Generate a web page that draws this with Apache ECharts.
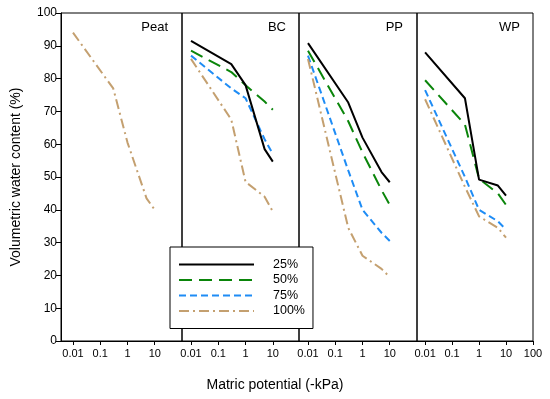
<!DOCTYPE html>
<html>
<head>
<meta charset="utf-8">
<script src="https://cdn.jsdelivr.net/npm/echarts@6/dist/echarts.min.js"></script>
<style>html,body{margin:0;padding:0;background:#fff}#c{width:550px;height:399px}</style>
</head>
<body>
<div id="c"></div>
<script>
// ---- data ----
const kpa = [0.01, 0.3, 1, 5, 10];
const panels = ['Peat', 'BC', 'PP', 'WP'];
const levels = ['25%', '50%', '75%', '100%'];
const xTicks = [0.01, 0.1, 1, 10, 100];
const yTicks = [0, 10, 20, 30, 40, 50, 60, 70, 80, 90, 100];

const peat100 = [94, 77, 60.5, 43.5, 40];

const bc25 = [91.5, 84.4, 78, 58.5, 54.7];
const bc50 = [88.5, 82, 78, 73, 70.5];
const bc75 = [87, 77, 74, 61.5, 57];
const bc100 = [86, 67.5, 48.5, 44, 39.5];

const pp25 = [90.8, 72.7, 62, 51.5, 48.4];
const pp50 = [88.5, 67, 57.5, 46, 41.5];
const pp75 = [87, 52, 40, 33, 30.5];
const pp100 = [86, 34.5, 26, 22, 19.5];

const wp25 = [88, 74, 49.2, 47.4, 44.3];
const wp50 = [79.5, 66, 49.5, 45, 41.5];
const wp75 = [76.5, 50, 40, 36.5, 34];
const wp100 = [73.7, 47, 38, 34.5, 31.5];

// ---- styles ----
const colors = { '25%': '#000000', '50%': '#0a850a', '75%': '#1e8cf5', '100%': '#c4a070' };
const dashes = { '25%': 'solid', '50%': [13, 7], '75%': [7, 4], '100%': [10, 4, 2, 4] };

const chart = echarts.init(document.getElementById('c'), null, { renderer: 'canvas' });

const gridPx = [
  { left: 61, right: 550 - 182 },
  { left: 182, right: 550 - 299 },
  { left: 299, right: 550 - 417 },
  { left: 417, right: 550 - 533 }
];
const xRange = [
  [Math.pow(10, -2.44), 100],
  [Math.pow(10, -2.33), Math.pow(10, 1.96)],
  [Math.pow(10, -2.33), Math.pow(10, 2.0)],
  [Math.pow(10, -2.30), 100]
];

function fmt(v) {
  const e = Math.round(Math.log10(v));
  return e < 0 ? v.toFixed(-e) : String(Math.round(v));
}

const grids = gridPx.map(g => ({
  left: g.left, right: g.right, top: 13, bottom: 58,
  show: true, borderColor: '#000', borderWidth: 1, backgroundColor: 'transparent'
}));

const xAxes = gridPx.map((g, i) => {
  const ticks = i === 3 ? xTicks : xTicks.slice(0, 4);
  return {
    type: 'log', gridIndex: i, logBase: 10,
    min: xRange[i][0], max: xRange[i][1],
    axisLine: { show: true, lineStyle: { color: '#000', width: 1 } },
    axisTick: { show: true, inside: false, length: 4, lineStyle: { color: '#000' }, customValues: ticks },
    axisLabel: { show: true, color: '#000', fontSize: 11, fontFamily: 'Liberation Sans, Arial', margin: 7, formatter: fmt, customValues: ticks },
    splitLine: { show: false }, minorTick: { show: false }
  };
});

const yAxes = gridPx.map((g, i) => ({
  type: 'value', gridIndex: i, min: 0, max: 100, interval: 10,
  axisLine: { show: i === 0, lineStyle: { color: '#000' } },
  axisTick: { show: i === 0, inside: false, length: 5, lineStyle: { color: '#000' } },
  axisLabel: { show: i === 0, color: '#000', fontSize: 12, fontFamily: 'Liberation Sans, Arial', margin: 4 },
  splitLine: { show: false },
  name: i === 0 ? 'Volumetric water content (%)' : '',
  nameLocation: 'middle', nameGap: 38, nameRotate: 90,
  nameTextStyle: { color: '#000', fontSize: 14, fontFamily: 'Liberation Sans, Arial' }
}));

function mk(name, grid, vals) {
  return {
    type: 'line', name: name, xAxisIndex: grid, yAxisIndex: grid,
    data: kpa.map((k, j) => [k, vals[j]]),
    symbol: 'none', smooth: false,
    lineStyle: { color: colors[name], width: 2, type: dashes[name] },
    itemStyle: { color: colors[name] },
    z: name === '25%' ? 5 : 3
  };
}

const series = [
  mk('100%', 0, peat100),
  mk('25%', 1, bc25), mk('50%', 1, bc50), mk('75%', 1, bc75), mk('100%', 1, bc100),
  mk('25%', 2, pp25), mk('50%', 2, pp50), mk('75%', 2, pp75), mk('100%', 2, pp100),
  mk('25%', 3, wp25), mk('50%', 3, wp50), mk('75%', 3, wp75), mk('100%', 3, wp100)
];

const titleRight = [168, 286, 403, 520];
const graphics = panels.map((p, i) => ({
  type: 'text', right: 550 - titleRight[i], top: 21,
  style: { text: p, fill: '#000', font: '13px "Liberation Sans", Arial' }, z: 10
}));
graphics.push({
  type: 'text', left: 'center', top: 378,
  style: { text: 'Matric potential (-kPa)', fill: '#000', font: '14px "Liberation Sans", Arial' }, z: 10
});

chart.setOption({
  animation: false,
  backgroundColor: '#fff',
  grid: grids,
  xAxis: xAxes,
  yAxis: yAxes,
  legend: {
    data: levels, orient: 'vertical', left: 170, top: 247,
    backgroundColor: '#fff', borderColor: '#000', borderWidth: 1,
    padding: [10, 8, 10, 8], itemWidth: 75, itemHeight: 10, itemGap: 0.5,
    itemStyle: { opacity: 0, borderWidth: 0 },
    textStyle: { color: '#000', fontSize: 12.5, lineHeight: 15, padding: [0, 0, 0, 14], fontFamily: 'Liberation Sans, Arial' },
    selectedMode: false, z: 20
  },
  graphic: graphics,
  series: series
});
</script>
</body>
</html>
